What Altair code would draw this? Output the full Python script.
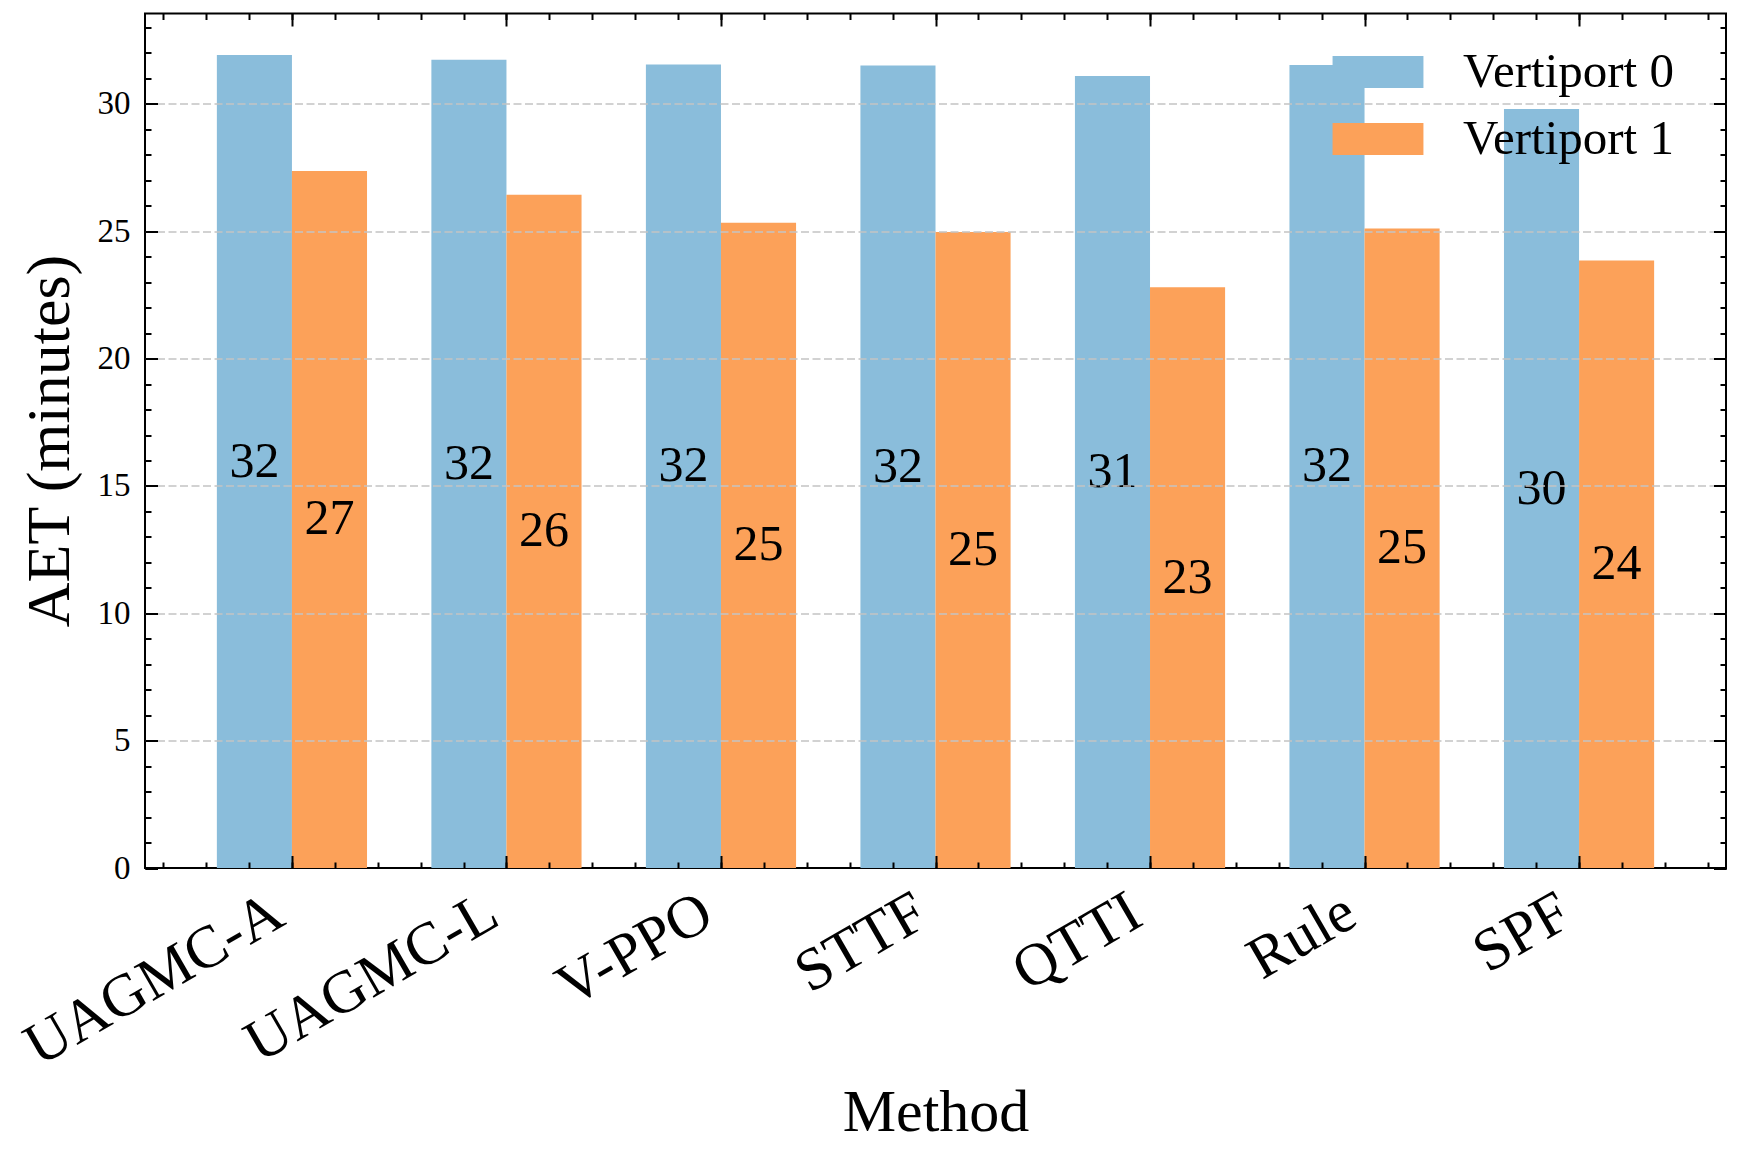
import altair as alt
import pandas as pd

methods = ["UAGMC-A", "UAGMC-L", "V-PPO", "STTF", "QTTI", "Rule", "SPF"]
series_names = ["Vertiport 0", "Vertiport 1"]
vertiport0 = [31.92, 31.73, 31.55, 31.51, 31.10, 31.53, 29.80]
vertiport1 = [27.37, 26.43, 25.33, 24.97, 22.80, 25.11, 23.85]
colors = ["#8abddb", "#fca159"]

y_major = [0, 5, 10, 15, 20, 25, 30]
y_grid = [5, 10, 15, 20, 25, 30]
y_minor = list(range(0, 34))
x_major = list(range(len(methods)))
x_minor = [round(-0.6 + 0.2 * i, 1) for i in range(37)]

rows = []
for i, m in enumerate(methods):
    rows.append({"method": m, "idx": i, "series": series_names[0], "value": vertiport0[i]})
    rows.append({"method": m, "idx": i, "series": series_names[1], "value": vertiport1[i]})
df = pd.DataFrame(rows)

FONT = "Liberation Serif"
BW = 0.35
MAJ = 12.5
MIN = 6.0

xscale = alt.Scale(domain=[-0.685, 6.685], nice=False, zero=False)
yscale = alt.Scale(domain=[0, 33.55], nice=False, zero=False)

label_expr = "[" + ",".join("'" + m + "'" for m in methods) + "][datum.value]"


def tick_axis(orient, values, size, **kw):
    return alt.Axis(orient=orient, values=values, tickSize=size, offset=-size,
                    domain=False, grid=False, ticks=True, tickColor="black",
                    tickWidth=2, zindex=1, title=None, **kw)


base = alt.Chart(df).transform_calculate(
    side="datum.series == 'Vertiport 0' ? -1 : 0"
).transform_calculate(
    x0=f"datum.idx + datum.side*{BW}",
    x1=f"datum.idx + (datum.side+1)*{BW}",
    xc=f"datum.idx + (datum.side+0.5)*{BW}",
    half="datum.value/2",
    label="format(datum.value, '.0f')",
)

bars = base.mark_bar().encode(
    x=alt.X("x0:Q", scale=xscale, axis=alt.Axis(
        orient="bottom", values=x_major, tickSize=MAJ, offset=-MAJ, domain=False,
        grid=False, tickColor="black", tickWidth=2, zindex=1,
        labelExpr=label_expr, labelAngle=-30, labelAlign="right",
        labelBaseline="alphabetic", labelFont=FONT, labelFontSize=60,
        labelColor="black", labelPadding=55, labelOffset=-5, labelLimit=2000,
        labelOverlap=False, labelFlush=False,
        title="Method", titleFont=FONT, titleFontSize=60, titleFontWeight="normal",
        titleColor="black", titleX=790.5, titleY=275, titleAlign="center",
        titleBaseline="alphabetic")),
    x2="x1:Q",
    y=alt.Y("value:Q", scale=yscale, axis=alt.Axis(
        orient="left", values=y_grid, grid=True, gridDash=[8, 3.5],
        gridColor="#c4c4c4", gridWidth=1.5, ticks=False, labels=False,
        domain=False, zindex=1,
        title="AET (minutes)", titleFont=FONT, titleFontSize=62,
        titleFontWeight="normal", titleColor="black", titleX=-96, titleY=427,
        titleAngle=-90, titleAlign="center", titleBaseline="middle")),
    y2=alt.datum(0),
    color=alt.Color("series:N", scale=alt.Scale(domain=series_names, range=colors),
                    legend=alt.Legend(
                        orient="none", legendX=1208.5, legendY=34, title=None,
                        symbolType="M-2.84,-1L2.84,-1L2.84,1L-2.84,1Z",
                        symbolSize=1024, symbolStrokeWidth=0, symbolOpacity=1,
                        labelFont=FONT, labelFontSize=49, labelColor="black",
                        labelOffset=60.5, rowPadding=17, padding=0,
                        labelLimit=2000, direction="vertical")),
)

texts = base.mark_text(font=FONT, fontSize=50, baseline="middle", align="center",
                       color="black").encode(
    x=alt.X("xc:Q", scale=xscale, axis=tick_axis("bottom", x_minor, MIN, labels=False)),
    y=alt.Y("half:Q", scale=yscale, axis=tick_axis(
        "left", y_major, MAJ, labels=True, labelPadding=15, labelFont=FONT,
        labelFontSize=33, labelColor="black", format="d")),
    text="label:N",
)

dummy1 = base.mark_point(opacity=0).encode(
    x=alt.X("x0:Q", scale=xscale, axis=tick_axis("top", x_major, MAJ, labels=False)),
    y=alt.Y("value:Q", scale=yscale, axis=tick_axis("left", y_minor, MIN, labels=False)),
)
dummy2 = base.mark_point(opacity=0).encode(
    x=alt.X("x0:Q", scale=xscale, axis=tick_axis("top", x_minor, MIN, labels=False)),
    y=alt.Y("value:Q", scale=yscale, axis=tick_axis("right", y_major, MAJ, labels=False)),
)
dummy3 = base.mark_point(opacity=0).encode(
    x=alt.X("x0:Q", scale=xscale, axis=None),
    y=alt.Y("value:Q", scale=yscale, axis=tick_axis("right", y_minor, MIN, labels=False)),
)

chart = alt.layer(bars, texts, dummy1, dummy2, dummy3).resolve_axis(
    x="independent", y="independent"
).properties(
    width=1581, height=854.5,
    autosize=alt.AutoSizeParams(type="none"),
    padding={"left": 137, "top": 5.5, "right": 6, "bottom": 281},
    background="white",
).configure_view(stroke="black", strokeWidth=2
).configure_axis(labelFont=FONT, titleFont=FONT
).configure_legend(labelFont=FONT)

chart.save("out.html", embed_options={"renderer": "svg", "actions": False})
